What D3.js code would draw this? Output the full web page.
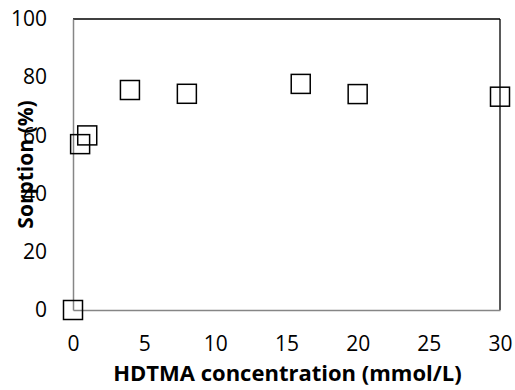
<!DOCTYPE html>
<html>
<head>
<meta charset="utf-8">
<script src="https://cdn.jsdelivr.net/npm/d3@7"></script>
<style>
  body { margin: 0; background: #fff; }
  svg { display: block; }
</style>
</head>
<body>
<svg id="chart" width="515" height="390"></svg>
<script>
// HDTMA concentration (mmol/L) vs sorption (%)
var concentration = [0, 0.5, 1, 4, 8, 16, 20, 30];
var sorption = [0, 57, 60, 75.6, 74.3, 77.7, 74.2, 73.3];
var xTicks = [0, 5, 10, 15, 20, 25, 30];
var yTicks = [0, 20, 40, 60, 80, 100];

var svg = d3.select("#chart");
var width = 515, height = 390;
var margin = { top: 19, right: 15, bottom: 80, left: 73 };
var innerWidth = width - margin.left - margin.right;
var innerHeight = height - margin.top - margin.bottom;
var fontFamily = "'Open Sans', sans-serif";

var g = svg.append("g").attr("transform", `translate(${margin.left}, ${margin.top})`);

var xScale = d3.scaleLinear().domain([0, 30]).range([0, innerWidth]);
var yScale = d3.scaleLinear().domain([0, 100]).range([innerHeight, 0]);

// plot border: top/right black, left/bottom gray axes
g.append("line").attr("x1", 0).attr("x2", innerWidth).attr("y1", 0).attr("y2", 0)
  .attr("stroke", "#000").attr("stroke-width", 1.3);
g.append("line").attr("x1", innerWidth).attr("x2", innerWidth).attr("y1", 0).attr("y2", innerHeight)
  .attr("stroke", "#000").attr("stroke-width", 1.3);

var xAxis = g.append("g")
  .attr("transform", `translate(0,${innerHeight})`)
  .call(d3.axisBottom(xScale).tickValues(xTicks).tickSize(0).tickPadding(26));
var yAxis = g.append("g")
  .call(d3.axisLeft(yScale).tickValues(yTicks).tickSize(0).tickPadding(26));

[xAxis, yAxis].forEach(function(ax) {
  ax.attr("font-family", fontFamily).attr("font-size", 21);
  ax.select(".domain").attr("stroke", "#868686").attr("stroke-width", 1.5);
  ax.selectAll("text").attr("fill", "#000");
});

// markers
g.selectAll("rect.pt")
  .data(concentration)
  .enter()
  .append("rect")
  .attr("class", "pt")
  .attr("x", (d) => xScale(d) - 9.5)
  .attr("y", (d, i) => yScale(sorption[i]) - 9.5)
  .attr("width", 19)
  .attr("height", 19)
  .attr("fill", "none")
  .attr("stroke", "#000")
  .attr("stroke-width", 1.5);

// axis labels
svg.append("text")
  .attr("x", 287.5)
  .attr("y", 381)
  .attr("text-anchor", "middle")
  .attr("font-family", fontFamily)
  .attr("font-size", 22)
  .attr("font-weight", "bold")
  .text("HDTMA concentration (mmol/L)");

svg.append("text")
  .attr("transform", `translate(33, ${margin.top + innerHeight / 2}) rotate(-90)`)
  .attr("text-anchor", "middle")
  .attr("font-family", fontFamily)
  .attr("font-size", 21)
  .attr("font-weight", "bold")
  .text("Sorption (%)");
</script>
</body>
</html>
